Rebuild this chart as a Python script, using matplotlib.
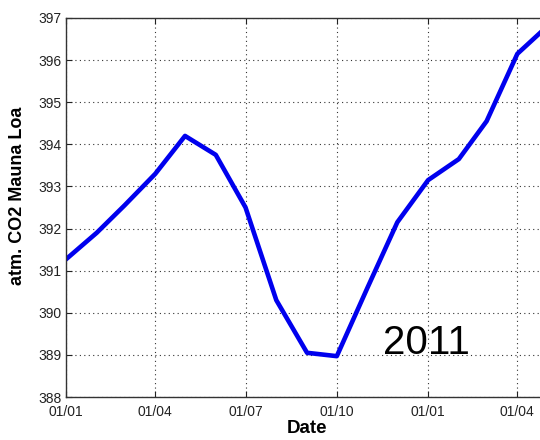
import datetime as dt
import matplotlib
matplotlib.use('Agg')
import matplotlib.pyplot as plt
import matplotlib.dates as mdates

# monthly atm. CO2 values, plotted on the first of each month
months = ['2010-01-01', '2010-02-01', '2010-03-01', '2010-04-01', '2010-05-01',
          '2010-06-01', '2010-07-01', '2010-08-01', '2010-09-01', '2010-10-01',
          '2010-11-01', '2010-12-01', '2011-01-01', '2011-02-01', '2011-03-01',
          '2011-04-01', '2011-05-01']
co2 = [391.27, 391.9, 392.55, 393.3, 394.2, 393.75, 392.5, 390.3, 389.05,
       388.97, 390.6, 392.15, 393.15, 393.65, 394.55, 396.15, 396.8]
tick_dates = ['2010-01-01', '2010-04-01', '2010-07-01', '2010-10-01',
              '2011-01-01', '2011-04-01']
yticks = [388, 389, 390, 391, 392, 393, 394, 395, 396, 397]

dates = [dt.datetime.strptime(d, '%Y-%m-%d') for d in months]
ticks = [dt.datetime.strptime(d, '%Y-%m-%d') for d in tick_dates]

plt.rcParams['font.family'] = ['Liberation Sans', 'DejaVu Sans']

fig = plt.figure(figsize=(5.4, 4.4), dpi=100)
ax = fig.add_axes([0.1222, 0.0977, 0.891, 0.8614])

ax.plot(dates, co2, color='#0000ee', linewidth=3.3, solid_joinstyle='round')

ax.set_xlim(dt.datetime(2010, 1, 1), dt.datetime(2011, 5, 1))
ax.set_ylim(388, 397)
ax.set_xticks(ticks)
ax.xaxis.set_major_formatter(mdates.DateFormatter('%d/%m'))
ax.set_yticks(yticks)

ax.grid(True, linestyle=(0, (1, 3)), color='#333333', linewidth=0.8)
ax.tick_params(direction='in', top=True, right=True, length=4,
               labelsize=10, colors='#222222')
ax.tick_params(axis='x', pad=5.5)
ax.tick_params(axis='y', pad=3)
for s in ax.spines.values():
    s.set_color('#333333')
    s.set_linewidth(1.0)

ax.set_xlabel('Date', fontsize=13.5, fontweight='bold', labelpad=1)
ax.set_ylabel('atm. CO2 Mauna Loa', fontsize=13, fontweight='bold')
ax.yaxis.set_label_coords(-0.084, 0.53)

ax.text(dt.datetime(2010, 11, 17), 389.02, '2011', fontsize=29,
        ha='left', va='baseline')

fig.savefig('out.png', dpi=100)
